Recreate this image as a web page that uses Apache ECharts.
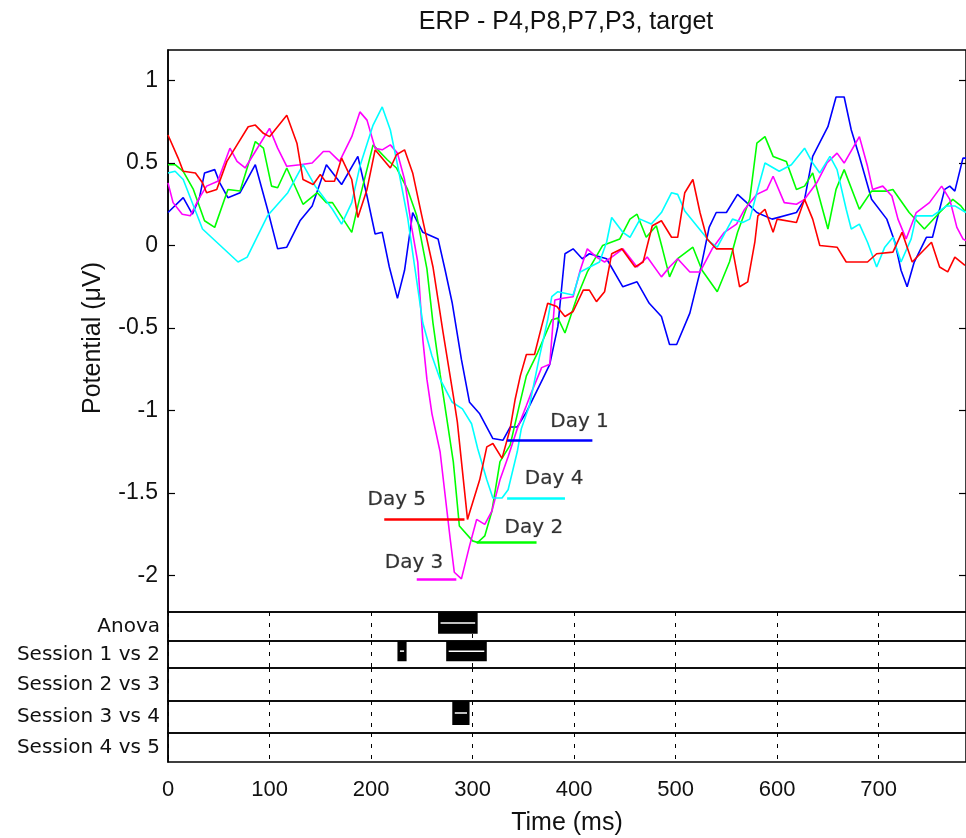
<!DOCTYPE html>
<html>
<head>
<meta charset="utf-8">
<script src="https://cdn.jsdelivr.net/npm/echarts@6/dist/echarts.min.js"></script>
<style>
  html, body { margin: 0; padding: 0; background: #fff; }
  #chart { width: 966px; height: 838px; }
</style>
</head>
<body>
<div id="chart"></div>
<script>
// ---- grand-average ERP per recording day: time (ms) and potential (µV) ----
const day1Ms = [0,15,24,31,36,46,51,59,71,86,98,108,117,130,142,156,171,187,196,204,211,218,226,233,241,251,266,273,280,289,297,307,320,330,337,344,353,369,376,384,391,399,408,415,432,448,462,474,486,494,501,514,524,533,540,550,561,570,580,595,619,627,635,650,658,666,673,681,693,708,716,722,728,735,747,753,765,770,775,783,786];
const day1Uv = [0.20,0.29,0.19,0.29,0.44,0.46,0.38,0.29,0.32,0.49,0.22,-0.02,-0.01,0.15,0.24,0.49,0.37,0.54,0.30,0.07,0.08,-0.13,-0.32,-0.15,0.20,0.08,0.04,-0.15,-0.35,-0.69,-0.95,-1.02,-1.17,-1.18,-1.10,-1.10,-1.01,-0.81,-0.72,-0.49,-0.05,-0.02,-0.08,-0.05,-0.08,-0.25,-0.22,-0.35,-0.43,-0.60,-0.60,-0.41,-0.16,0.11,0.20,0.20,0.31,0.26,0.20,0.16,0.20,0.28,0.54,0.72,0.90,0.90,0.70,0.54,0.28,0.16,0.02,-0.15,-0.25,-0.10,0.05,0.05,0.34,0.36,0.33,0.53,0.53];

const day2Ms = [0,7,15,25,36,46,59,71,86,94,102,108,117,133,147,156,162,181,187,202,216,225,236,245,255,261,268,281,287,300,305,312,319,327,337,346,353,364,378,384,391,403,413,428,445,455,462,471,481,487,494,502,517,526,541,553,561,573,580,588,596,609,619,627,635,650,658,666,681,693,708,714,730,745,760,773,781,786];
const day2Uv = [0.49,0.49,0.45,0.34,0.15,0.11,0.34,0.33,0.63,0.59,0.36,0.35,0.47,0.25,0.32,0.26,0.26,0.08,0.24,0.61,0.52,0.47,0.34,0.18,-0.14,-0.47,-0.78,-1.31,-1.70,-1.79,-1.80,-1.76,-1.61,-1.31,-1.21,-0.97,-0.79,-0.65,-0.45,-0.44,-0.53,-0.31,-0.16,0.00,0.04,0.16,0.19,0.05,0.12,-0.02,-0.19,-0.08,-0.01,-0.15,-0.28,-0.10,0.08,0.28,0.62,0.66,0.54,0.51,0.34,0.36,0.44,0.10,0.34,0.46,0.22,0.33,0.33,0.34,0.20,0.10,0.20,0.28,0.24,0.20];

const day3Ms = [0,5,14,22,30,38,49,61,68,76,86,100,108,117,130,142,153,159,169,181,189,196,204,211,219,226,233,240,246,251,255,260,268,278,282,289,297,304,312,319,327,335,344,353,358,368,376,381,389,399,406,413,422,430,437,448,462,472,486,494,502,514,524,536,548,560,568,580,590,596,607,619,627,639,649,659,666,681,689,694,704,713,719,727,737,750,762,770,777,783,786];
const day3Uv = [0.38,0.26,0.19,0.18,0.28,0.36,0.39,0.59,0.51,0.47,0.57,0.71,0.59,0.48,0.49,0.50,0.57,0.57,0.51,0.66,0.81,0.76,0.59,0.58,0.61,0.56,0.40,0.11,-0.10,-0.57,-0.81,-1.02,-1.25,-1.78,-1.98,-2.02,-1.82,-1.66,-1.69,-1.61,-1.42,-1.28,-1.11,-0.97,-0.89,-0.74,-0.72,-0.33,-0.32,-0.31,-0.15,-0.02,-0.07,-0.10,-0.07,-0.02,-0.13,-0.07,-0.19,-0.13,-0.08,-0.16,-0.16,-0.02,0.08,0.13,0.22,0.31,0.34,0.42,0.26,0.25,0.28,0.38,0.50,0.56,0.50,0.66,0.48,0.34,0.36,0.30,0.16,0.04,0.20,0.26,0.36,0.28,0.11,0.04,0.03];

const day4Ms = [0,7,15,34,69,78,98,118,133,145,162,171,181,189,202,211,219,226,236,243,251,260,268,280,290,299,305,314,320,329,335,344,348,356,366,374,378,384,399,406,425,432,437,448,455,465,476,486,496,502,509,526,534,541,556,566,573,580,588,602,614,627,635,642,652,659,668,673,681,689,698,706,714,722,732,737,753,767,775,786];
const day4Uv = [0.44,0.45,0.40,0.10,-0.10,-0.07,0.18,0.32,0.49,0.36,0.22,0.13,0.26,0.48,0.73,0.84,0.70,0.49,0.17,-0.13,-0.47,-0.67,-0.81,-0.95,-0.99,-1.08,-1.23,-1.42,-1.53,-1.53,-1.48,-1.25,-1.11,-0.97,-0.67,-0.45,-0.31,-0.28,-0.30,-0.16,-0.10,0.02,0.17,0.08,0.05,0.16,0.13,0.20,0.32,0.31,0.21,0.08,0.02,-0.01,0.16,0.14,0.16,0.32,0.50,0.45,0.49,0.59,0.50,0.44,0.54,0.46,0.22,0.10,0.13,0.02,-0.13,-0.01,0.05,-0.10,0.04,0.18,0.18,0.24,0.24,0.20];

const day5Ms = [0,10,15,27,34,38,48,58,68,79,86,94,100,117,127,133,143,150,155,164,171,181,187,196,204,219,225,233,241,250,261,271,281,285,295,297,307,314,320,329,337,342,347,353,361,368,374,383,391,399,409,415,422,430,437,447,460,468,477,486,496,502,509,517,524,531,540,548,556,563,571,578,581,588,596,600,619,627,635,642,659,668,678,689,698,714,723,733,752,760,768,775,785];
const day5Uv = [0.67,0.53,0.45,0.44,0.38,0.32,0.34,0.51,0.61,0.72,0.73,0.68,0.66,0.79,0.62,0.40,0.37,0.43,0.39,0.39,0.53,0.40,0.17,0.34,0.58,0.47,0.55,0.58,0.44,0.18,-0.13,-0.53,-0.91,-1.07,-1.66,-1.62,-1.42,-1.22,-1.20,-1.29,-1.11,-0.93,-0.79,-0.66,-0.66,-0.49,-0.35,-0.37,-0.43,-0.40,-0.27,-0.27,-0.34,-0.28,-0.05,-0.02,-0.13,-0.10,0.12,0.15,0.05,0.05,0.32,0.40,0.20,0.04,-0.02,-0.02,-0.02,-0.25,-0.22,0.02,0.18,0.22,0.08,0.16,0.14,0.28,0.16,0.00,-0.01,-0.10,-0.10,-0.10,-0.05,-0.04,0.08,-0.10,0.02,-0.13,-0.16,-0.07,-0.12];

// day names and the time span (ms) of the horizontal marker drawn at each day's trough
const dayNames = ['Day 1', 'Day 2', 'Day 3', 'Day 4', 'Day 5'];
const troughFromMs = [334, 304, 245, 334, 213];
const troughToMs = [418, 363, 284, 391, 292];

// significance strips: row names and significant intervals (ms)
const testRows = ['Anova', 'Session 1 vs 2', 'Session 2 vs 3', 'Session 3 vs 4', 'Session 4 vs 5'];
const sigFromMs = [[266], [226, 274], [], [280], []];
const sigToMs = [[305], [235, 314], [], [297], []];

// tick values
const timeTicks = [0, 100, 200, 300, 400, 500, 600, 700];
const potentialTicks = [-2, -1.5, -1, -0.5, 0, 0.5, 1];

// ---------------------------------------------------------------------------
const TIME_MAX = 786;
const Y_MIN = -2.221, Y_MAX = 1.185;
const PLOT_LEFT = 168, PLOT_WIDTH = 799;
const TICK_FONT = 'Liberation Sans';
const NOTE_FONT = 'DejaVu Sans';

const dayColors = ['#0000ff', '#00ff00', '#ff00ff', '#00ffff', '#ff0000'];
const dayTimes = [day1Ms, day2Ms, day3Ms, day4Ms, day5Ms];
const dayValues = [day1Uv, day2Uv, day3Uv, day4Uv, day5Uv];

// where each day's name sits (ms, µV, left-middle anchor)
const noteAnchor = [[376, -1.07], [331, -1.71], [213, -1.92], [351, -1.415], [196, -1.54]];

const rowTops = [612, 641, 668, 701, 733];
const rowHeights = [29, 27, 33, 32, 29];

const grids = [{ left: PLOT_LEFT, top: 50, width: PLOT_WIDTH, height: 562,
  show: true, borderColor: '#000', borderWidth: 1.5, backgroundColor: '#fff' }];
const xAxes = [{ type: 'value', gridIndex: 0, min: 0, max: TIME_MAX, show: false }];
const yAxes = [
  { type: 'value', gridIndex: 0, min: Y_MIN, max: Y_MAX, position: 'left',
    axisLine: { show: true, lineStyle: { color: '#000', width: 1.5 } },
    axisTick: { show: true, inside: true, length: 7, customValues: potentialTicks,
      lineStyle: { color: '#000', width: 1.2 } },
    axisLabel: { show: true, customValues: potentialTicks, margin: 10,
      fontFamily: TICK_FONT, fontSize: 23, color: '#111' },
    splitLine: { show: false } },
  { type: 'value', gridIndex: 0, min: Y_MIN, max: Y_MAX, position: 'right',
    axisLine: { show: false },
    axisTick: { show: true, inside: true, length: 7, customValues: potentialTicks,
      lineStyle: { color: '#000', width: 1.2 } },
    axisLabel: { show: false }, splitLine: { show: false } }
];

const series = [];

// ERP traces with a trough marker for each day
dayNames.forEach((name, i) => {
  const pts = dayTimes[i].map((t, k) => [t, dayValues[i][k]]);
  const trough = Math.min(...dayValues[i]);
  series.push({
    type: 'line', name, xAxisIndex: 0, yAxisIndex: 0, data: pts,
    showSymbol: false, symbol: 'none', clip: true,
    lineStyle: { color: dayColors[i], width: 1.6 },
    itemStyle: { color: dayColors[i] },
    markLine: {
      silent: true, symbol: ['none', 'none'], animation: false,
      label: { show: false },
      lineStyle: { color: dayColors[i], width: 2.6, type: 'solid' },
      emphasis: { disabled: true },
      data: [[{ coord: [troughFromMs[i], trough] }, { coord: [troughToMs[i], trough] }]]
    }
  });
});

// day names
series.push({
  type: 'scatter', xAxisIndex: 0, yAxisIndex: 0, symbolSize: 1, silent: true,
  itemStyle: { color: 'rgba(0,0,0,0)' },
  label: { show: true, position: 'right', distance: 0, formatter: '{b}',
    fontFamily: NOTE_FONT, fontSize: 20, color: '#000', align: 'left', verticalAlign: 'middle',
    textBorderColor: 'rgba(0,0,0,0.35)', textBorderWidth: 0.6 },
  data: dayNames.map((n, i) => ({ name: n, value: noteAnchor[i] }))
});

// significance strips below the traces
function renderSig(params, api) {
  const row = api.value(2);
  const a = api.coord([api.value(0), row]);
  const b = api.coord([api.value(1), row]);
  const band = api.size([0, 1])[1];
  const top = a[1] - band / 2;
  const h = band * 0.75;
  const mid = top + h / 2;
  return {
    type: 'group',
    children: [
      { type: 'rect', shape: { x: a[0], y: top, width: b[0] - a[0], height: h },
        style: { fill: '#000' } },
      { type: 'line', shape: { x1: a[0] + 2.5, y1: mid, x2: b[0] - 2.5, y2: mid },
        style: { stroke: '#fff', lineWidth: 1.5 } }
    ]
  };
}

testRows.forEach((rowName, r) => {
  const gi = r + 1;
  const last = r === testRows.length - 1;
  grids.push({ left: PLOT_LEFT, top: rowTops[r], width: PLOT_WIDTH, height: rowHeights[r],
    show: true, borderColor: '#000', borderWidth: 1.5 });
  xAxes.push({
    type: 'value', gridIndex: gi, min: 0, max: TIME_MAX, interval: 100,
    axisLine: { show: false }, axisTick: { show: false },
    splitLine: { show: true, lineStyle: { color: '#000', width: 1, type: [4, 7] } },
    axisLabel: { show: last, margin: 17, fontFamily: TICK_FONT, fontSize: 22, color: '#111',
      customValues: timeTicks },
    name: last ? 'Time (ms)' : '', nameLocation: 'middle', nameGap: 49,
    nameTextStyle: { fontFamily: TICK_FONT, fontSize: 25, color: '#111' }
  });
  yAxes.push({
    type: 'category', gridIndex: gi, data: [rowName],
    axisLine: { show: true, lineStyle: { color: '#000', width: 1.5 } },
    axisTick: { show: false },
    axisLabel: { show: true, margin: 8, fontFamily: NOTE_FONT, fontSize: 20, color: '#111' },
    splitLine: { show: false }
  });
  series.push({
    type: 'custom', xAxisIndex: gi, yAxisIndex: yAxes.length - 1,
    renderItem: renderSig, silent: true,
    encode: { x: [0, 1], y: 2 },
    data: sigFromMs[r].map((s, k) => [s, sigToMs[r][k], 0])
  });
});

const chart = echarts.init(document.getElementById('chart'), null, { renderer: 'canvas' });
chart.setOption({
  animation: false,
  backgroundColor: '#fff',
  grid: grids,
  xAxis: xAxes,
  yAxis: yAxes,
  series,
  graphic: [
    { type: 'text', x: 566, y: 22, silent: true,
      style: { text: 'ERP - P4,P8,P7,P3, target', fontFamily: TICK_FONT, fontSize: 25, fill: '#111',
        align: 'center', verticalAlign: 'middle', textAlign: 'center', textVerticalAlign: 'middle' } },
    { type: 'text', x: 93, y: 338, rotation: Math.PI / 2, silent: true,
      style: { text: 'Potential (\u03bcV)', fontFamily: TICK_FONT, fontSize: 25, fill: '#111',
        align: 'center', verticalAlign: 'middle', textAlign: 'center', textVerticalAlign: 'middle' } }
  ]
});
</script>
</body>
</html>
